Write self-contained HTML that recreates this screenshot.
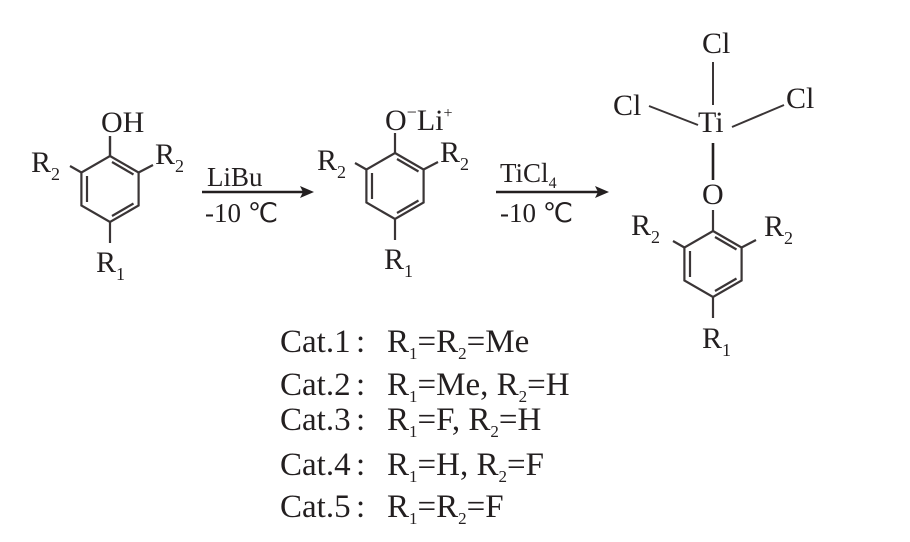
<!DOCTYPE html>
<html><head><meta charset="utf-8"><style>
html,body{margin:0;padding:0;background:#fff;}
svg{display:block;}
text{font-family:"Liberation Serif",serif;fill:#231f20;}
</style></head><body>
<svg width="910" height="542" viewBox="0 0 910 542" xmlns="http://www.w3.org/2000/svg">
<defs>
<g id="ring" stroke="#3a3536" stroke-width="2.2" fill="none">
<polygon points="0,-33 28.6,-16.5 28.6,16.5 0,33 -28.6,16.5 -28.6,-16.5"/>
<line x1="2" y1="-27" x2="23.5" y2="-14.5"/>
<line x1="-23" y1="-13" x2="-23" y2="13"/>
<line x1="23.5" y1="14.5" x2="2" y2="27"/>
<line x1="-28.6" y1="-16.5" x2="-40" y2="-23"/>
<line x1="28.6" y1="-16.5" x2="43" y2="-24"/>
<line x1="0" y1="33" x2="0" y2="54"/>
</g>
</defs>
<!-- molecule 1 -->
<use href="#ring" x="110" y="189"/>
<line x1="110" y1="136" x2="110" y2="156" stroke="#3a3536" stroke-width="2.4"/>
<text x="101" y="132" font-size="30">OH</text>
<text x="31" y="172" font-size="30">R<tspan font-size="18" dy="8">2</tspan></text>
<text x="155" y="164" font-size="30">R<tspan font-size="18" dy="8">2</tspan></text>
<text x="96" y="272" font-size="30">R<tspan font-size="18" dy="8">1</tspan></text>
<!-- arrow 1 -->
<line x1="202" y1="192" x2="305" y2="192" stroke="#231f20" stroke-width="2.6"/>
<polygon points="314,192 300,186 303,192 300,198" fill="#231f20"/>
<text x="207" y="186" font-size="27">LiBu</text>
<text x="205" y="222" font-size="27">-10 ℃</text>
<!-- molecule 2 -->
<use href="#ring" x="395" y="186"/>
<line x1="395" y1="133" x2="395" y2="153" stroke="#3a3536" stroke-width="2.2"/>
<text x="385" y="130" font-size="30">O<tspan font-size="18" dy="-12">−</tspan><tspan dy="12">Li</tspan><tspan font-size="16" dy="-12">+</tspan></text>
<text x="317" y="170" font-size="30">R<tspan font-size="18" dy="8">2</tspan></text>
<text x="440" y="162" font-size="30">R<tspan font-size="18" dy="8">2</tspan></text>
<text x="384" y="269" font-size="30">R<tspan font-size="18" dy="8">1</tspan></text>
<!-- arrow 2 -->
<line x1="496" y1="192" x2="600" y2="192" stroke="#231f20" stroke-width="2.6"/>
<polygon points="609,192 595,186 598,192 595,198" fill="#231f20"/>
<text x="500" y="182" font-size="27">TiCl<tspan font-size="16" dy="6">4</tspan></text>
<text x="500" y="222" font-size="27">-10 ℃</text>
<!-- molecule 3 -->
<use href="#ring" x="713" y="264"/>
<line x1="713" y1="210" x2="713" y2="231" stroke="#3a3536" stroke-width="2.2"/>
<text x="702" y="204" font-size="30">O</text>
<line x1="713" y1="143" x2="713" y2="180" stroke="#231f20" stroke-width="2.6"/>
<text x="698" y="132" font-size="30">Ti</text>
<line x1="713" y1="62" x2="713" y2="105" stroke="#3a3536" stroke-width="2"/>
<text x="702" y="53" font-size="30">Cl</text>
<line x1="649" y1="106" x2="698" y2="125" stroke="#3a3536" stroke-width="2"/>
<text x="613" y="115" font-size="30">Cl</text>
<line x1="732" y1="127" x2="784" y2="105" stroke="#3a3536" stroke-width="2"/>
<text x="786" y="108" font-size="30">Cl</text>
<text x="631" y="235" font-size="30">R<tspan font-size="18" dy="8">2</tspan></text>
<text x="764" y="236" font-size="30">R<tspan font-size="18" dy="8">2</tspan></text>
<text x="702" y="348" font-size="30">R<tspan font-size="18" dy="8">1</tspan></text>
<!-- catalysts -->
<g font-size="33">
<text x="280" y="352">Cat.1<tspan x="356">:</tspan></text>
<text x="387" y="352">R<tspan font-size="17" dy="7">1</tspan><tspan dy="-7">=R</tspan><tspan font-size="17" dy="7">2</tspan><tspan dy="-7">=Me</tspan></text>
<text x="280" y="395">Cat.2<tspan x="356">:</tspan></text>
<text x="387" y="395">R<tspan font-size="17" dy="7">1</tspan><tspan dy="-7">=Me, R</tspan><tspan font-size="17" dy="7">2</tspan><tspan dy="-7">=H</tspan></text>
<text x="280" y="430">Cat.3<tspan x="356">:</tspan></text>
<text x="387" y="430">R<tspan font-size="17" dy="7">1</tspan><tspan dy="-7">=F, R</tspan><tspan font-size="17" dy="7">2</tspan><tspan dy="-7">=H</tspan></text>
<text x="280" y="475">Cat.4<tspan x="356">:</tspan></text>
<text x="387" y="475">R<tspan font-size="17" dy="7">1</tspan><tspan dy="-7">=H, R</tspan><tspan font-size="17" dy="7">2</tspan><tspan dy="-7">=F</tspan></text>
<text x="280" y="517">Cat.5<tspan x="356">:</tspan></text>
<text x="387" y="517">R<tspan font-size="17" dy="7">1</tspan><tspan dy="-7">=R</tspan><tspan font-size="17" dy="7">2</tspan><tspan dy="-7">=F</tspan></text>
</g>
</svg>
</body></html>
